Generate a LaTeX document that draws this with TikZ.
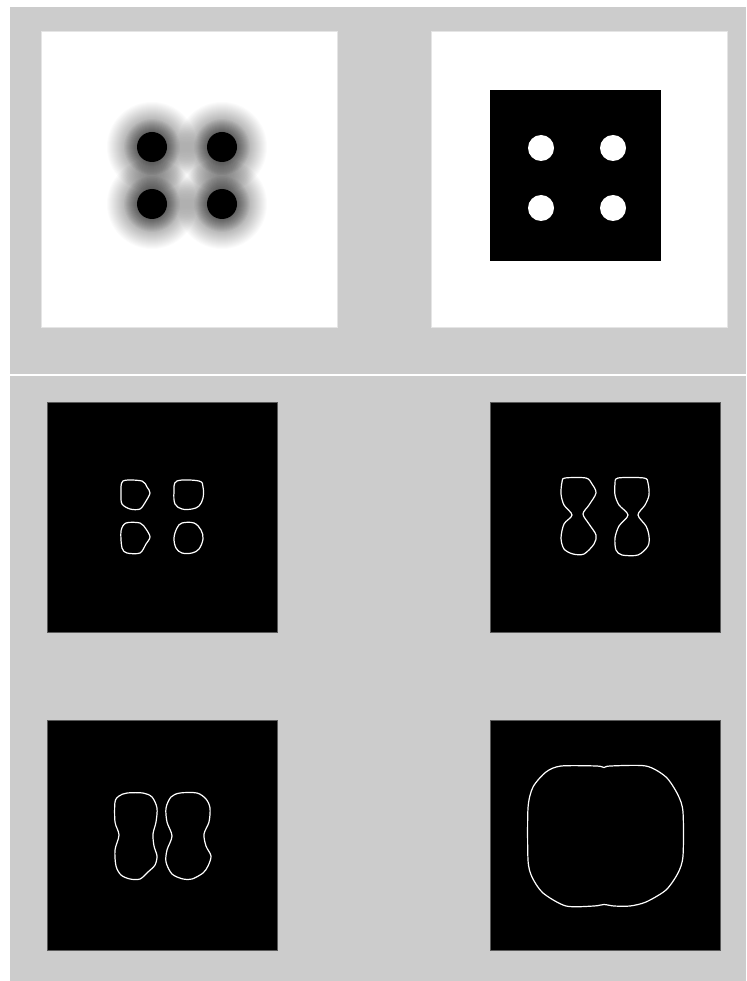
\documentclass[tikz,border=0pt]{standalone}
\usetikzlibrary{positioning}
\definecolor{bggray}{RGB}{204,204,204}

\begin{document}
\begin{tikzpicture}[
  x=1pt, y=-1pt,
  whitepanel/.style={
    rectangle,
    inner sep=0pt,
    minimum size=#1,
    fill=white,
    draw=black!10,
    line width=0.6pt,
  },
  blackpanel/.style={
    rectangle,
    inner sep=0pt,
    minimum size=#1,
    fill=black,
    draw=black!65,
    line width=0.8pt,
  },
  dot/.style={
    circle,
    inner sep=0pt,
    minimum size=#1,
  },
  halo/.style={
    fill=black,
    fill opacity=#1,
  },
  contour/.style={
    draw=white,
    line width=1.2pt,
    line join=round,
  },
]

% ============================================================
% BACKGROUND
% ============================================================
\useasboundingbox (0,0) rectangle (746,981);
\fill[white] (0,0) rectangle (746,981);
\fill[bggray] (10,7) rectangle (746,981);
\draw[white, line width=2pt] (10,375) -- (746,375);

% ============================================================
% TOP LEFT: blurred image
% ============================================================
\node[whitepanel=296pt] (blurpanel) at (189,179) {};

\foreach \cx/\cy [count=\i] in {152/147, 222/147, 152/204, 222/204} {
  \foreach \r in {29,30,...,45}
    \fill[halo=0.016] (\cx,\cy) circle (\r pt);
  \foreach \r in {16,17,...,28}
    \fill[halo=0.045] (\cx,\cy) circle (\r pt);
  \node[dot=30pt, fill=black] (blob\i) at (\cx,\cy) {};
}

% ============================================================
% TOP RIGHT: binary image
% ============================================================
\node[whitepanel=296pt] (binpanel) at (579,179) {};
\node[blackpanel=171pt, draw=none] (binsquare) at (575.5,175.5) {};

\node[dot=26pt, fill=white] (hole1) at (541,148) {};
\node[dot=26pt, fill=white] (hole2) at (613,148) {};
\node[dot=26pt, fill=white] (hole3) at (541,208) {};
\node[dot=26pt, fill=white] (hole4) at (613,208) {};

% ============================================================
% STEP 1: four small contours
% ============================================================
\node[blackpanel=230pt] (stepone) at (162.5,517) {};

\draw[contour] plot[smooth cycle, tension=0.5] coordinates {
  (123,481) (142,481) (147,487) (150,493) (146,501) (140,509)
  (130,509) (122,504) (121,494)};
\draw[contour] plot[smooth cycle, tension=0.6] coordinates {
  (177,481) (199,481) (203,487) (203,498) (199,506) (192,509)
  (182,509) (175,504) (174,492)};
\draw[contour] plot[smooth cycle, tension=0.5] coordinates {
  (126,523) (140,523) (146,529) (150,537) (146,544) (140,553)
  (127,553) (122,548) (121,531)};
\draw[contour] plot[smooth cycle, tension=0.6] coordinates {
  (182,523) (194,523) (201,530) (203,539) (199,549) (192,553)
  (182,553) (176,548) (174,538) (177,528)};

% ============================================================
% STEP 2: two hourglass contours
% ============================================================
\node[blackpanel=230pt] (steptwo) at (605,517) {};

\draw[contour] plot[smooth cycle, tension=0.5] coordinates {
  (565,478) (586,478) (592,484) (596,493) (589,505) (583,514)
  (589,524) (596,535) (594,544) (584,554) (573,554) (564,549)
  (561,538) (564,524) (572,515) (564,505) (561,494) (562,482)};
\draw[contour] plot[smooth cycle, tension=0.5] coordinates {
  (618,478) (644,478) (648,483) (649,495) (645,505) (638,515)
  (646,526) (649,536) (648,546) (638,555) (622,555) (616,550)
  (615,538) (619,526) (628,515) (619,505) (615,495) (615,484)};

% ============================================================
% STEP 3: two peanut contours
% ============================================================
\node[blackpanel=230pt] (stepthree) at (162.5,835.5) {};

\draw[contour] plot[smooth cycle, tension=0.5] coordinates {
  (127,793) (143,793) (152,797) (157,808) (156,822) (153,834)
  (154,846) (157,856) (155,865) (148,872) (140,879) (130,879)
  (121,875) (116,866) (115,850) (119,835) (115,822) (115,802)
  (119,796)};
\draw[contour] plot[smooth cycle, tension=0.5] coordinates {
  (180,793) (197,793) (206,799) (210,808) (209,822) (204,834)
  (206,846) (211,856) (208,866) (203,873) (192,879) (183,879)
  (172,874) (166,862) (167,850) (172,836) (167,822) (166,808)
  (171,797)};

% ============================================================
% STEP 4: merged contour
% ============================================================
\node[blackpanel=230pt] (stepfour) at (605.5,835.5) {};

\draw[contour] plot[smooth cycle, tension=0.45] coordinates {
  (561,766) (597,766) (604,767.5) (610,766) (646,766) (666,777)
  (678,795) (683,812) (683,856) (678,873) (666,890) (646,902)
  (630,906) (614,906) (604,904.5) (594,906) (566,906) (543,893)
  (532,877) (528,860) (528,808) (533,787) (546,772)};

\end{tikzpicture}
\end{document}
